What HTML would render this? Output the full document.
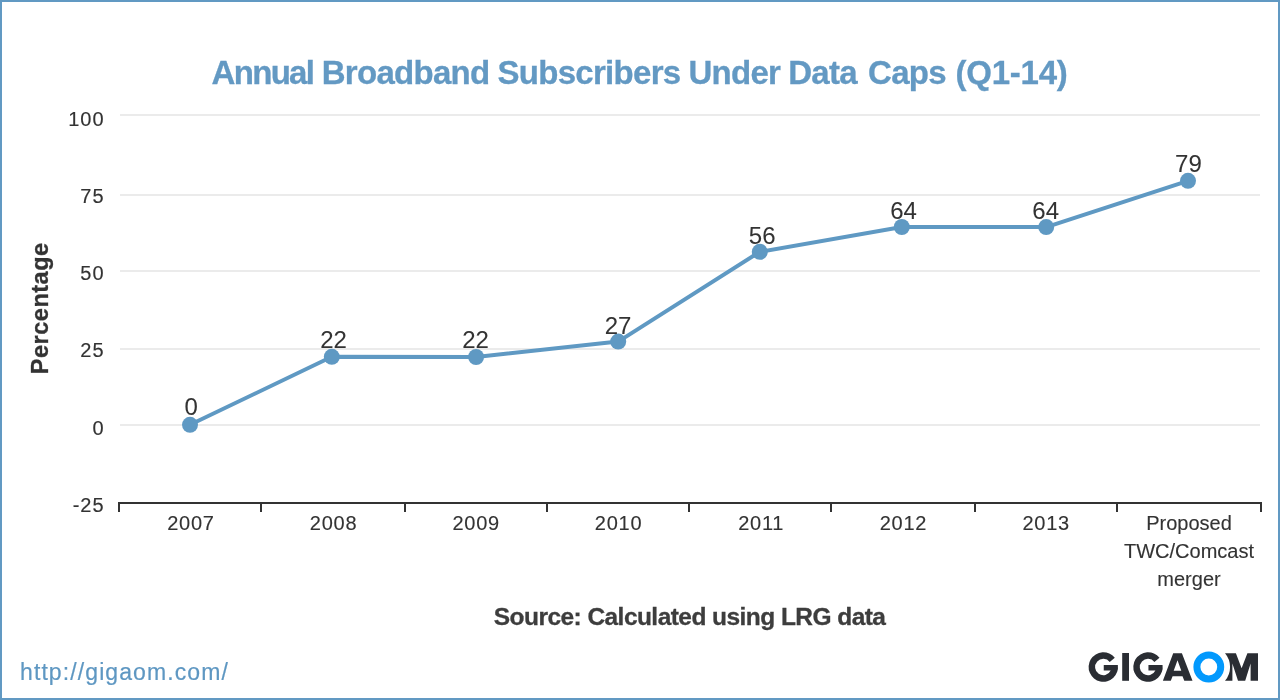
<!DOCTYPE html>
<html><head><meta charset="utf-8">
<style>
html,body{margin:0;padding:0;background:#fff;width:1280px;height:700px;overflow:hidden}
svg{display:block;will-change:transform}
text{font-family:"Liberation Sans",sans-serif}
</style></head><body>
<svg width="1280" height="700" viewBox="0 0 1280 700">
<rect x="0" y="0" width="1280" height="700" fill="#fff"/>
<!-- frame -->
<rect x="1" y="1" width="1278" height="698" fill="none" stroke="#6199c3" stroke-width="2"/>
<!-- title -->
<text id="title" y="84" font-size="33" letter-spacing="-0.71" font-weight="bold" fill="#6399c3" stroke="#6399c3" stroke-width="0.3"><tspan x="211.5" letter-spacing="-1.67">Annual</tspan><tspan x="321.7">Broadband</tspan><tspan x="497.5">Subscribers</tspan><tspan x="688.4">Under</tspan><tspan x="788.2">Data</tspan><tspan x="868.1">Caps</tspan><tspan x="955.4" letter-spacing="-0.21">(Q1-14)</tspan></text>
<!-- gridlines -->
<g fill="#ebebeb">
<rect x="120" y="114" width="1140" height="2"/>
<rect x="120" y="194" width="1140" height="2"/>
<rect x="120" y="270" width="1140" height="2"/>
<rect x="120" y="348" width="1140" height="2"/>
<rect x="120" y="424" width="1140" height="2"/>
</g>
<!-- axis -->
<g fill="#333">
<rect x="118" y="502" width="1144" height="2"/>
<rect x="118" y="502" width="2" height="10"/>
<rect x="260" y="502" width="2" height="10"/>
<rect x="404" y="502" width="2" height="10"/>
<rect x="546" y="502" width="2" height="10"/>
<rect x="688" y="502" width="2" height="10"/>
<rect x="830" y="502" width="2" height="10"/>
<rect x="974" y="502" width="2" height="10"/>
<rect x="1116" y="502" width="2" height="10"/>
<rect x="1260" y="502" width="2" height="10"/>
</g>
<!-- y labels -->
<g id="ylab" font-size="20" letter-spacing="1" fill="#333" stroke="#333" stroke-width="0.15" text-anchor="end">
<text x="104.6" y="125.6">100</text>
<text x="104.6" y="202.5">75</text>
<text x="104.6" y="280">50</text>
<text x="104.6" y="357">25</text>
<text x="104.6" y="434.8">0</text>
<text x="104.6" y="511.6">-25</text>
</g>
<!-- y title -->
<text id="ytitle" transform="translate(48.2,308.3) rotate(-90)" text-anchor="middle" font-size="23.5" letter-spacing="0.5" font-weight="bold" fill="#333" stroke="#333" stroke-width="0.3">Percentage</text>
<!-- x labels -->
<g id="xlab" font-size="20" fill="#333" stroke="#333" stroke-width="0.12" text-anchor="middle">
<text x="190.97" y="530" letter-spacing="0.75">2007</text>
<text x="333.57" y="530" letter-spacing="0.75">2008</text>
<text x="476.18" y="530" letter-spacing="0.75">2009</text>
<text x="618.58" y="530" letter-spacing="0.75">2010</text>
<text x="761.17" y="530" letter-spacing="0.75">2011</text>
<text x="903.48" y="530" letter-spacing="0.75">2012</text>
<text x="1046.17" y="530" letter-spacing="0.75">2013</text>
<text x="1189" y="529.5">Proposed</text>
<text x="1189" y="557.8">TWC/Comcast</text>
<text x="1189" y="586">merger</text>
</g>
<!-- series line -->
<polyline fill="none" stroke="#5f99c3" stroke-width="4" stroke-linejoin="round" points="190,424.8 331.8,356.8 476.1,357 618.2,341.6 759.8,251.8 901.8,227 1046.2,227.1 1188,180.8"/>
<g fill="#5f99c3">
<circle cx="190" cy="424.8" r="8"/>
<circle cx="331.8" cy="356.8" r="8"/>
<circle cx="476.1" cy="357" r="8"/>
<circle cx="618.2" cy="341.6" r="8"/>
<circle cx="759.8" cy="251.8" r="8"/>
<circle cx="901.8" cy="227" r="8"/>
<circle cx="1046.2" cy="227.1" r="8"/>
<circle cx="1188" cy="180.8" r="8"/>
</g>
<!-- data labels -->
<g id="dlab" font-size="24" letter-spacing="0" fill="#333" stroke="#333" stroke-width="0.05" text-anchor="middle">
<text x="191.1" y="415.4">0</text>
<text x="333.6" y="347.6">22</text>
<text x="475.5" y="347.6">22</text>
<text x="618.1" y="333.6">27</text>
<text x="762.15" y="243.6">56</text>
<text x="903.6" y="219.3">64</text>
<text x="1045.7" y="219.3">64</text>
<text x="1188.4" y="171.8">79</text>
</g>
<!-- source -->
<text id="source" x="689.6" y="625" text-anchor="middle" font-size="24.5" letter-spacing="-0.55" font-weight="bold" fill="#3d3d3d" stroke="#3d3d3d" stroke-width="0.3">Source: Calculated using LRG data</text>
<!-- link -->
<text id="link" x="20" y="680" font-size="23" letter-spacing="1.1" fill="#5e97c2" stroke="#5e97c2" stroke-width="0.2">http://gigaom.com/</text>
<!-- logo -->
<g id="logo" fill="#2a2d33">
<path d="M 1114.8 657.85 A 14.7 14.7 0 1 0 1117.85 664.9 L 1103.75 664.9 L 1103.75 670.5 L 1110.7 670.5 A 8.2 8.2 0 1 1 1109.72 661.9 Z"/>
<path transform="translate(44.7,0)" d="M 1114.8 657.85 A 14.7 14.7 0 1 0 1117.85 664.9 L 1103.75 664.9 L 1103.75 670.5 L 1110.7 670.5 A 8.2 8.2 0 1 1 1109.72 661.9 Z"/>
<rect x="1122.2" y="653" width="6.8" height="27.8"/>
<path fill-rule="evenodd" d="M 1162.9 680.8 L 1173.2 653.2 L 1181.9 653.2 L 1192.5 680.8 L 1184.3 680.8 L 1182.5 676.2 L 1172.6 676.2 L 1170.8 680.8 Z M 1177.5 660.2 L 1181.3 670.8 L 1173.7 670.8 Z"/>
<circle cx="1208.8" cy="667" r="11.9" fill="none" stroke="#0299fd" stroke-width="7"/>
<path d="M 1225 653.2 L 1235.9 653.2 L 1241.6 668.3 L 1247.4 653.2 L 1258 653.2 L 1258 680.8 L 1250.6 680.8 L 1250.6 663.5 L 1245.2 680.8 L 1238 680.8 L 1232.4 663.5 L 1232.4 680.8 L 1225 680.8 A 21.3 21.3 0 0 0 1225 653.2 Z"/>
</g>
</svg>
</body></html>
